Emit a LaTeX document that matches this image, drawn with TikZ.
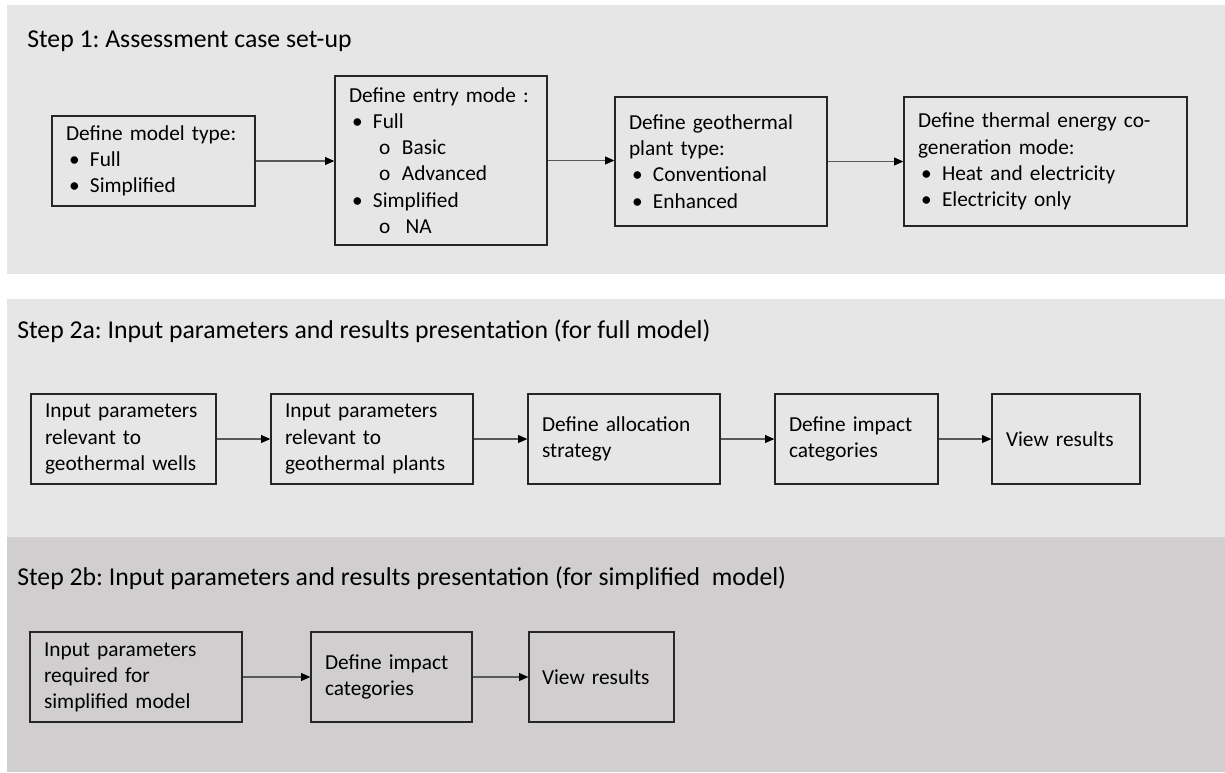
\documentclass[tikz,border=0pt]{standalone}
\usepackage{fontspec}
\setmainfont{Carlito}
\usetikzlibrary{arrows.meta}
\frenchspacing
\definecolor{paneltop}{HTML}{E6E6E6}
\definecolor{panelbot}{HTML}{D0CECE}
\definecolor{inkline}{HTML}{262626}
\definecolor{flowline}{HTML}{595959}
\newcommand{\bitem}[1]{\hspace*{2.25pt}\makebox[15.75pt][l]{\textbullet}#1}
\newcommand{\sitem}[1]{\hspace*{22.5pt}\makebox[17.25pt][l]{o}#1}
\begin{document}
\begin{tikzpicture}[x=0.75pt,y=-0.75pt,
  box/.style={draw=inkline, line width=1pt, inner xsep=10.5pt, inner ysep=0pt,
    align=left, font=\fontsize{16}{19.6}\selectfont, minimum height=67.5pt},
  steptitle/.style={anchor=west, inner sep=0pt, font=\fontsize{19.3}{23}\selectfont},
  flow/.style={draw=flowline, line width=0.8pt, -{Triangle[length=7pt,width=6pt,color=black]}}]
  \useasboundingbox (0,0) rectangle (1225,772);
  \fill[paneltop] (7,5) rectangle (1225,274);
  \fill[paneltop] (7,299) rectangle (1225,537);
  \fill[panelbot] (7,537) rectangle (1225,772);

  \node[steptitle] (t1) at (27,41) {Step 1: Assessment case set-up};
  \node[box, text width=131.25pt] (model) at (153.5,161) {Define model type:\\\bitem{Full}\\\bitem{Simplified}};
  \node[box, text width=138pt, minimum height=126.75pt] (entry) at (441,160.5) {Define entry mode :\\\bitem{Full}\\\sitem{Basic}\\\sitem{Advanced}\\\bitem{Simplified}\\\sitem{\,NA}};
  \node[box, text width=138pt, minimum height=96.75pt] (plant) at (721,161.5) {Define geothermal\\plant type:\\\bitem{Conventional}\\\bitem{Enhanced}};
  \node[box, text width=191.25pt, minimum height=96.75pt] (cogen) at (1045.5,161.5) {Define thermal energy co-\\generation mode:\\\bitem{Heat and electricity}\\\bitem{Electricity only}};
  \draw[flow] (model.east) -- (model.east -| entry.west);
  \draw[flow] (entry.east) -- (entry.east -| plant.west);
  \draw[flow] (plant.east) -- (plant.east -| cogen.west);

  \node[steptitle] (t2a) at (17,331) {Step 2a: Input parameters and results presentation (for full model)};
  \node[box, text width=117.75pt] (wells) at (123.5,439) {Input parameters\\relevant to\\geothermal wells};
  \node[box, text width=130.5pt] (plants) at (372,439) {Input parameters\\relevant to\\geothermal plants};
  \node[box, text width=123pt] (alloc) at (624,439) {Define allocation\\strategy};
  \node[box, text width=101.25pt] (impact) at (856.5,439) {Define impact\\categories};
  \node[box, text width=90pt] (view) at (1066,439) {View results};
  \draw[flow] (wells) -- (plants);
  \draw[flow] (plants) -- (alloc);
  \draw[flow] (alloc) -- (impact);
  \draw[flow] (impact) -- (view);

  \node[steptitle] (t2b) at (17,578) {Step 2b: Input parameters and results presentation (for simplified\ \ model)};
  \node[box, text width=138pt] (simp) at (136,677) {Input parameters\\required for\\simplified model};
  \node[box, text width=99.75pt] (simpimpact) at (391.5,677) {Define impact\\categories};
  \node[box, text width=89.25pt, inner xsep=9.75pt] (simpview) at (601.5,677) {View results};
  \draw[flow] (simp) -- (simpimpact);
  \draw[flow] (simpimpact) -- (simpview);
\end{tikzpicture}
\end{document}
